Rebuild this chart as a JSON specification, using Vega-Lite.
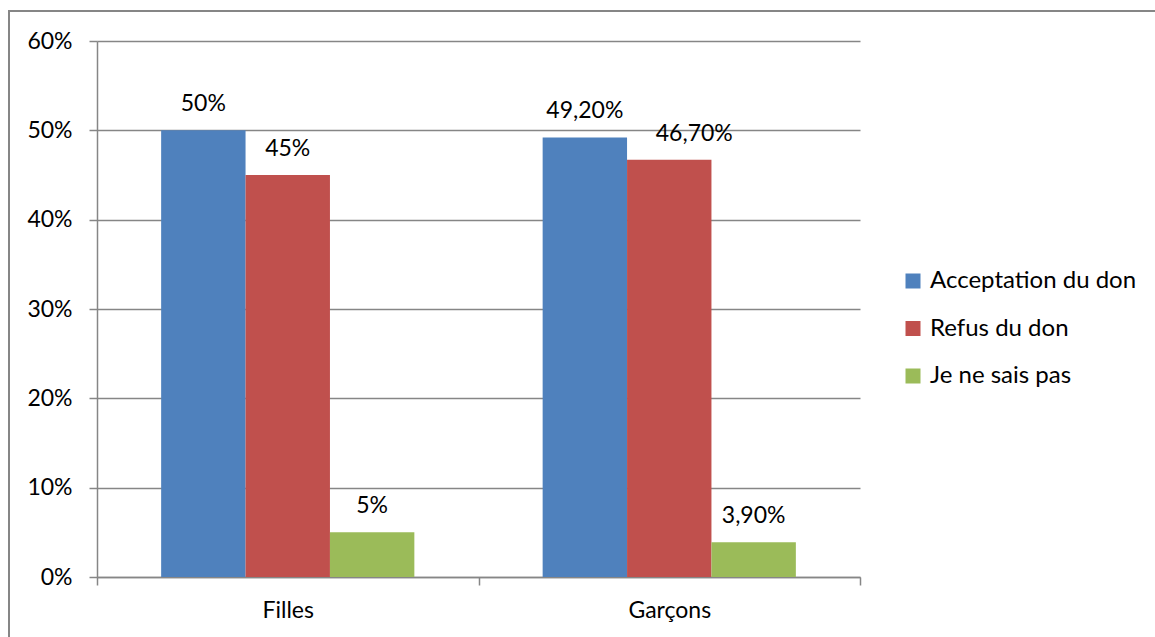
{
  "$schema": "https://vega.github.io/schema/vega-lite/v6.json",
  "autosize": {"type": "none"},
  "width": 763,
  "height": 536,
  "padding": {"left": 97, "top": 41, "right": 295, "bottom": 60},
  "background": "white",
  "config": {
    "font": "Lato",
    "view": {"stroke": null},
    "axis": {"labelFont": "Lato", "labelColor": "#000000", "labelFontSize": 23}
  },
  "datasets": {
    "reponses": [
      {"groupe": "Filles", "reponse": "Acceptation du don", "part": 0.50, "label": "50%"},
      {"groupe": "Filles", "reponse": "Refus du don", "part": 0.45, "label": "45%"},
      {"groupe": "Filles", "reponse": "Je ne sais pas", "part": 0.05, "label": "5%"},
      {"groupe": "Garçons", "reponse": "Acceptation du don", "part": 0.492, "label": "49,20%"},
      {"groupe": "Garçons", "reponse": "Refus du don", "part": 0.467, "label": "46,70%"},
      {"groupe": "Garçons", "reponse": "Je ne sais pas", "part": 0.039, "label": "3,90%"}
    ],
    "cadre": [{}]
  },
  "layer": [
    {
      "data": {"name": "reponses"},
      "encoding": {
        "x": {
          "field": "groupe",
          "type": "nominal",
          "sort": ["Filles", "Garçons"],
          "scale": {"paddingInner": 0, "paddingOuter": 0},
          "axis": {
            "title": null,
            "labelAngle": 0,
            "domainColor": "#868686",
            "domainWidth": 1.5,
            "tickColor": "#868686",
            "tickWidth": 1.5,
            "tickSize": 8,
            "tickBand": "extent",
            "labelPadding": 14,
            "grid": false
          }
        },
        "xOffset": {
          "field": "reponse",
          "type": "nominal",
          "sort": ["Acceptation du don", "Refus du don", "Je ne sais pas"],
          "scale": {"paddingInner": 0, "paddingOuter": 0.76}
        },
        "y": {
          "field": "part",
          "type": "quantitative",
          "scale": {"domain": [0, 0.6]},
          "axis": {
            "title": null,
            "format": ".0%",
            "values": [0, 0.1, 0.2, 0.3, 0.4, 0.5, 0.6],
            "gridColor": "#868686",
            "gridWidth": 1.5,
            "domainColor": "#868686",
            "domainWidth": 1.5,
            "tickColor": "#868686",
            "tickWidth": 1.5,
            "tickSize": 8,
            "labelPadding": 17
          }
        }
      },
      "layer": [
        {
          "mark": {"type": "bar"},
          "encoding": {
            "color": {
              "field": "reponse",
              "type": "nominal",
              "sort": ["Acceptation du don", "Refus du don", "Je ne sais pas"],
              "scale": {
                "domain": ["Acceptation du don", "Refus du don", "Je ne sais pas"],
                "range": ["#4F81BD", "#C0504D", "#9BBB59"]
              },
              "legend": {
                "title": null,
                "orient": "none",
                "legendX": 804,
                "legendY": 228,
                "symbolType": "square",
                "symbolSize": 225,
                "symbolStrokeWidth": 0,
                "labelFontSize": 24,
                "labelFont": "Lato",
                "labelColor": "#000000",
                "labelOffset": 5,
                "labelLimit": 400,
                "rowPadding": 23.5,
                "padding": 0
              }
            }
          }
        },
        {
          "transform": [{"filter": "!(datum.groupe === 'Garçons' && datum.reponse === 'Refus du don')"}],
          "mark": {"type": "text", "baseline": "alphabetic", "dy": -19, "fontSize": 23, "font": "Lato", "color": "#000000"},
          "encoding": {"text": {"field": "label"}}
        },
        {
          "transform": [{"filter": "datum.groupe === 'Garçons' && datum.reponse === 'Refus du don'"}],
          "mark": {"type": "text", "baseline": "alphabetic", "dy": -19, "dx": 25, "fontSize": 23, "font": "Lato", "color": "#000000"},
          "encoding": {"text": {"field": "label"}}
        }
      ]
    },
    {
      "data": {"name": "cadre"},
      "mark": {"type": "rect", "fill": null, "stroke": "#868686", "strokeWidth": 2},
      "encoding": {
        "x": {"value": -88},
        "x2": {"value": 1200},
        "y": {"value": -30},
        "y2": {"value": 700}
      }
    }
  ]
}
